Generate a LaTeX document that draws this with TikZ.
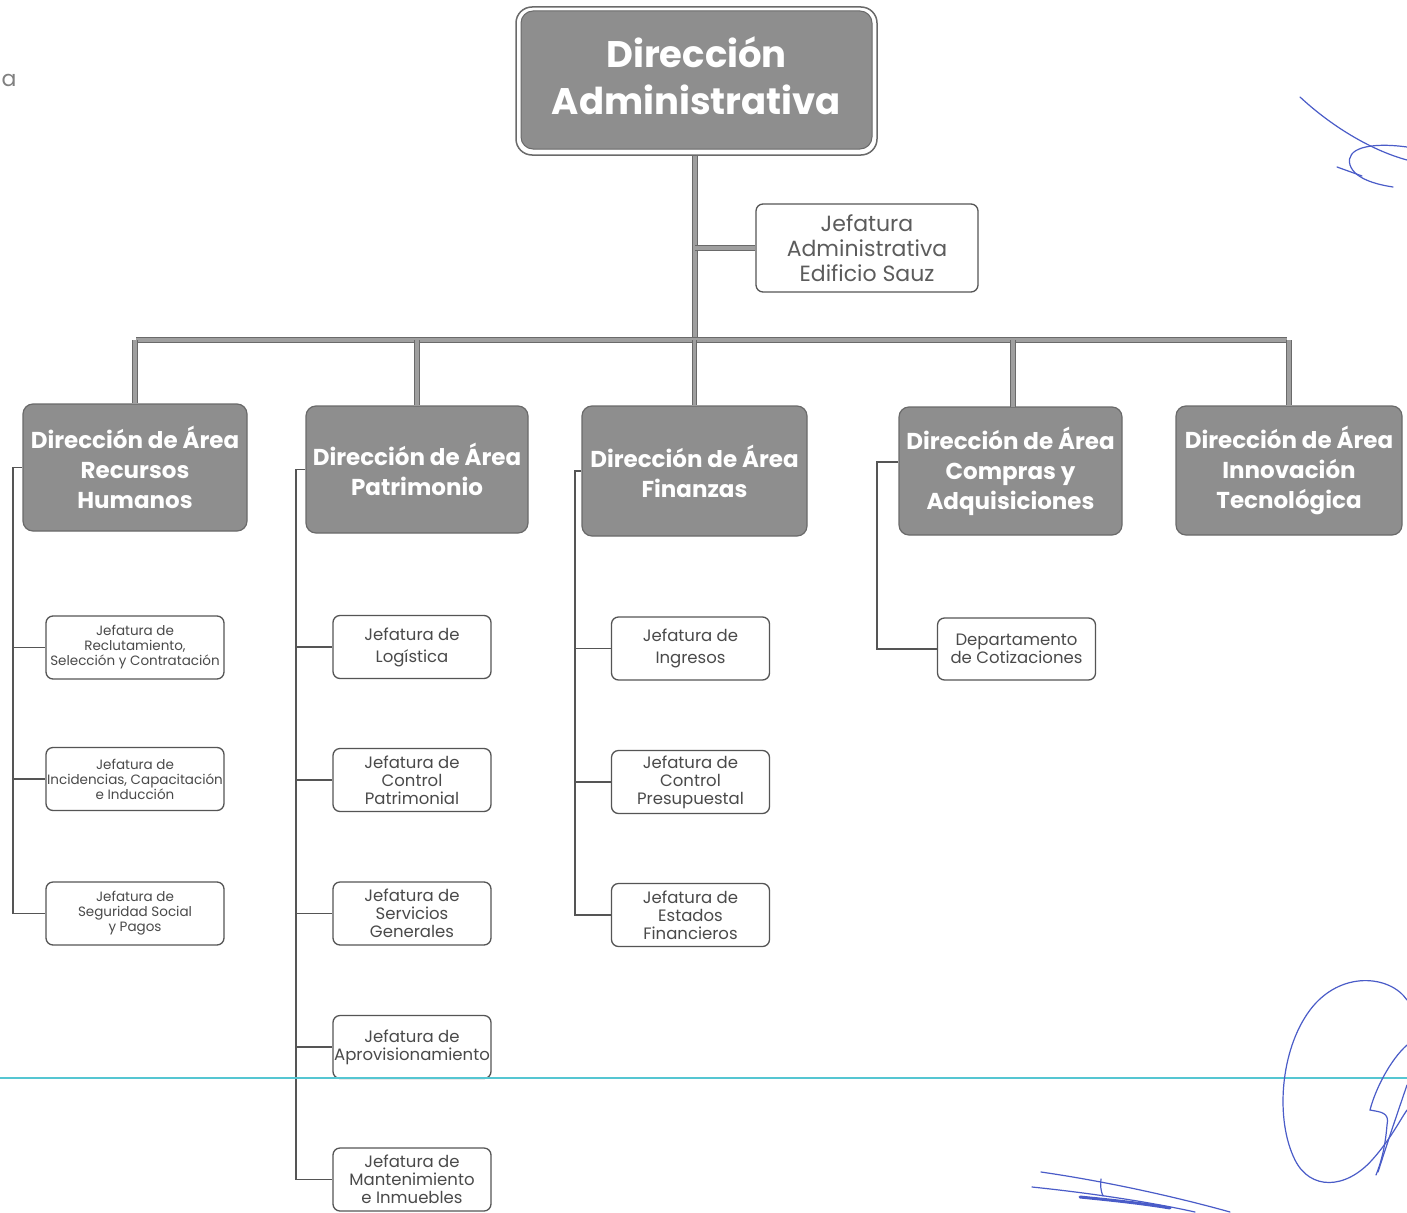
\documentclass[tikz,border=0pt]{standalone}
\usepackage{fontspec}
\setmainfont{Poppins}
\definecolor{boxgray}{HTML}{8E8E8E}
\definecolor{edgegray}{HTML}{6A6A6A}
\definecolor{linegray}{HTML}{555555}
\definecolor{txtgray}{HTML}{4A4A4A}
\definecolor{cyanline}{HTML}{55C6D2}
\definecolor{ink}{HTML}{4A5CC8}
\tikzset{
  dirbox/.style={fill=boxgray, draw=edgegray, line width=1.2, rounded corners=10, inner sep=0,
    align=center, text=white, font=\bfseries\fontsize{23}{30}\selectfont},
  subbox/.style={fill=white, draw=linegray, line width=1.3, rounded corners=7, inner sep=0,
    align=center, text=txtgray},
  trunk/.style={draw=edgegray, line width=1, double=boxgray!85!white, double distance=3.5},
  subline/.style={draw=linegray, line width=1.3},
  inkline/.style={draw=ink, line width=1.2, line cap=round}
}
\begin{document}
\begin{tikzpicture}[x=1pt,y=-1pt]
\useasboundingbox (0,0) rectangle (1407,1212);
\fill[white] (0,0) rectangle (1407,1212);

% stray letter
\node[text=gray, font=\fontsize{22}{26}\selectfont, inner sep=0] (frag) at (9,80) {a};

% top box
\node[draw=edgegray, line width=1.5, fill=white, rounded corners=16, minimum width=361, minimum height=148] (top) at (696.5,81) {};
\node[fill=boxgray, draw=edgegray, line width=1, rounded corners=12, minimum width=351, minimum height=138,
  inner sep=0] (topin) at (696.5,80) {};
\node[text=white, align=center, font=\bfseries\fontsize{37}{47}\selectfont, inner sep=0] (toptxt) at (696.5,76) {Dirección\\Administrativa};

% jefatura administrativa
\node[subbox, minimum width=222, minimum height=88, font=\fontsize{22}{25}\selectfont, text=txtgray!90!white] (jadm) at (867,248)
  {Jefatura\\Administrativa\\Edificio Sauz};

% direction boxes
\node[dirbox, minimum width=224, minimum height=127] (rh) at (135,467.5) {Dirección de Área\\Recursos\\Humanos};
\node[dirbox, minimum width=222, minimum height=127] (pat) at (417,469.5) {Dirección de Área\\Patrimonio};
\node[dirbox, minimum width=225, minimum height=130] (fin) at (694.5,471) {Dirección de Área\\Finanzas};
\node[dirbox, minimum width=223, minimum height=128] (com) at (1010.5,471) {Dirección de Área\\Compras y\\Adquisiciones};
\node[dirbox, minimum width=226, minimum height=129] (inn) at (1289,470.5) {Dirección de Área\\Innovación\\Tecnológica};

% trunk and bar
\coordinate (barL) at (136,340);
\coordinate (barR) at (1287,340);
\coordinate (trk) at (695,340);
\draw[trunk] (trk |- top.south) -- (trk);
\draw[trunk] (trk |- jadm.west) -- (jadm.west);
\draw[trunk] (barL) -- (barR);
\draw[trunk] (rh.north |- barL) -- (rh.north);
\draw[trunk] (pat.north |- barL) -- (pat.north);
\draw[trunk] (fin.north |- barL) -- (fin.north);
\draw[trunk] (1013,340) -- (1013,407);
\draw[trunk] (inn.north |- barR) -- (inn.north);

% RH sub boxes
\tikzset{rhf/.style={subbox, minimum width=178, minimum height=63, font=\fontsize{13.5}{15}\selectfont}}
\node[rhf] (rh1) at (135,647.5) {Jefatura de\\Reclutamiento,\\Selección y Contratación};
\node[rhf] (rh2) at (135,779) {Jefatura de\\Incidencias, Capacitación\\e Inducción};
\node[rhf] (rh3) at (135,913.5) {Jefatura de\\Seguridad Social\\y Pagos};
\coordinate (rhx) at (13,0);
\draw[subline] (rh.west) -- (rh.west -| rhx) |- (rh3.west);
\draw[subline] (rhx |- rh1.west) -- (rh1.west);
\draw[subline] (rhx |- rh2.west) -- (rh2.west);

% Patrimonio sub boxes
\tikzset{pf/.style={subbox, minimum width=158, minimum height=63, font=\fontsize{16.5}{18}\selectfont},
  pf2/.style={pf, font=\fontsize{16.5}{22}\selectfont}}
\node[pf2] (p1) at (412,647) {Jefatura de\\Logística};
\node[pf] (p2) at (412,780) {Jefatura de\\Control\\Patrimonial};
\node[pf] (p3) at (412,913.5) {Jefatura de\\Servicios\\Generales};
\node[pf] (p4) at (412,1047) {Jefatura de\\Aprovisionamiento};
\node[pf] (p5) at (412,1179.5) {Jefatura de\\Mantenimiento\\e Inmuebles};
\coordinate (px) at (296,0);
\draw[subline] (pat.west) -- (pat.west -| px) |- (p5.west);
\draw[subline] (px |- p1.west) -- (p1.west);
\draw[subline] (px |- p2.west) -- (p2.west);
\draw[subline] (px |- p3.west) -- (p3.west);
\draw[subline] (px |- p4.west) -- (p4.west);

% Finanzas sub boxes
\node[pf2] (f1) at (690.5,648.5) {Jefatura de\\Ingresos};
\node[pf] (f2) at (690.5,782) {Jefatura de\\Control\\Presupuestal};
\node[pf] (f3) at (690.5,915) {Jefatura de\\Estados\\Financieros};
\coordinate (fx) at (575,0);
\draw[subline] (fin.west) -- (fin.west -| fx) |- (f3.west);
\draw[subline] (fx |- f1.west) -- (f1.west);
\draw[subline] (fx |- f2.west) -- (f2.west);

% Compras sub box
\node[pf, minimum height=62] (c1) at (1016.5,649) {Departamento\\de Cotizaciones};
\coordinate (cx) at (877,0);
\draw[subline] ([yshift=9]com.west) -- ([yshift=9]com.west -| cx) |- (c1.west);

% cyan scan line
\draw[cyanline, line width=1.6] (0,1078) -- (1407,1078);

% signatures
\draw[inkline] (1300,97) .. controls (1330,125) and (1370,150) .. (1407,160);
\draw[inkline] (1407,147) .. controls (1370,142) and (1345,148) .. (1350,165) .. controls (1355,180) and (1380,185) .. (1393,187);
\draw[inkline] (1337,167) -- (1362,176);
\draw[inkline] (1407,1000) .. controls (1390,975) and (1340,970) .. (1310,1010)
  .. controls (1280,1050) and (1275,1120) .. (1295,1160)
  .. controls (1310,1190) and (1345,1190) .. (1372,1160)
  .. controls (1390,1140) and (1400,1120) .. (1407,1110);
\draw[inkline] (1407,1045) .. controls (1390,1060) and (1375,1090) .. (1370,1110)
  .. controls (1380,1112) and (1390,1112) .. (1387,1125) .. controls (1385,1150) and (1380,1165) .. (1376,1175);
\draw[inkline] (1407,1085) .. controls (1395,1120) and (1385,1150) .. (1378,1172);
\draw[inkline] (1041,1172) .. controls (1110,1182) and (1180,1198) .. (1230,1212);
\draw[inkline] (1032,1187) .. controls (1090,1193) and (1150,1202) .. (1195,1212);
\draw[inkline] (1101,1179) .. controls (1100,1185) and (1101,1192) .. (1103,1196);
\draw[inkline, line width=3] (1080,1197) .. controls (1110,1200) and (1140,1203) .. (1170,1208);
\end{tikzpicture}
\end{document}
